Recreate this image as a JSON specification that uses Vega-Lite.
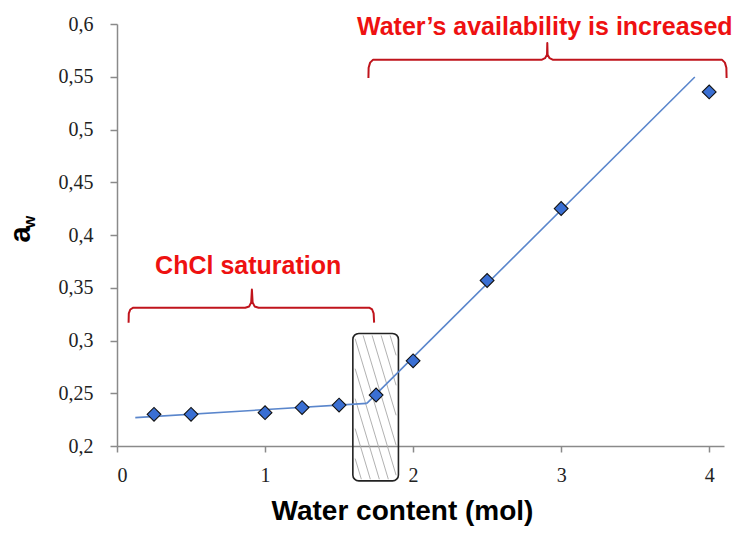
{
  "$schema": "https://vega.github.io/schema/vega-lite/v6.json",
  "width": 607,
  "height": 422,
  "autosize": {"type": "none"},
  "padding": {"left": 117, "top": 24, "right": 17, "bottom": 89},
  "background": "white",
  "config": {"view": {"stroke": null}},
  "datasets": {
    "points": [
      {"water": 0.25, "aw": 0.230},
      {"water": 0.5, "aw": 0.230},
      {"water": 1.0, "aw": 0.2316},
      {"water": 1.25, "aw": 0.2364},
      {"water": 1.5, "aw": 0.2388},
      {"water": 1.75, "aw": 0.2483},
      {"water": 2.0, "aw": 0.2807},
      {"water": 2.5, "aw": 0.3569},
      {"water": 3.0, "aw": 0.4251},
      {"water": 4.0, "aw": 0.5356}
    ],
    "fits": [
      {"series": "fit1", "water": 0.1235, "aw": 0.2269},
      {"series": "fit1", "water": 1.6875, "aw": 0.2404},
      {"series": "fit2", "water": 1.6875, "aw": 0.2404},
      {"series": "fit2", "water": 3.903, "aw": 0.5498}
    ],
    "box": [
      {"x": 1.593, "x2": 1.901, "y": 0.1669, "y2": 0.3067}
    ],
    "hatch": [
      {"x": 1.6085, "y": 0.1881, "x2": 1.6504, "y2": 0.1685},
      {"x": 1.6085, "y": 0.2165, "x2": 1.7111, "y2": 0.1685},
      {"x": 1.6085, "y": 0.2449, "x2": 1.7718, "y2": 0.1685},
      {"x": 1.6085, "y": 0.2733, "x2": 1.8326, "y2": 0.1685},
      {"x": 1.6085, "y": 0.3017, "x2": 1.8853, "y2": 0.1723},
      {"x": 1.6625, "y": 0.3048, "x2": 1.8853, "y2": 0.2007},
      {"x": 1.7232, "y": 0.3048, "x2": 1.8853, "y2": 0.2291},
      {"x": 1.784, "y": 0.3048, "x2": 1.8853, "y2": 0.2575},
      {"x": 1.8447, "y": 0.3048, "x2": 1.8853, "y2": 0.2859}
    ],
    "braces": [
      {"b": "sat", "i": 0, "x": 0.0783, "y": 0.3169},
      {"b": "sat", "i": 1, "x": 0.0797, "y": 0.3257},
      {"b": "sat", "i": 2, "x": 0.0898, "y": 0.3294},
      {"b": "sat", "i": 3, "x": 0.11, "y": 0.3311},
      {"b": "sat", "i": 4, "x": 0.866, "y": 0.3311},
      {"b": "sat", "i": 5, "x": 0.893, "y": 0.3323},
      {"b": "sat", "i": 6, "x": 0.9065, "y": 0.3361},
      {"b": "sat", "i": 7, "x": 0.9112, "y": 0.3484},
      {"b": "sat", "i": 8, "x": 0.916, "y": 0.3361},
      {"b": "sat", "i": 9, "x": 0.9295, "y": 0.3323},
      {"b": "sat", "i": 10, "x": 0.9565, "y": 0.3311},
      {"b": "sat", "i": 11, "x": 1.703, "y": 0.3311},
      {"b": "sat", "i": 12, "x": 1.7233, "y": 0.3294},
      {"b": "sat", "i": 13, "x": 1.7334, "y": 0.3257},
      {"b": "sat", "i": 14, "x": 1.7367, "y": 0.3169},
      {"b": "avail", "i": 0, "x": 1.6983, "y": 0.5489},
      {"b": "avail", "i": 1, "x": 1.6996, "y": 0.5586},
      {"b": "avail", "i": 2, "x": 1.7097, "y": 0.5634},
      {"b": "avail", "i": 3, "x": 1.73, "y": 0.5662},
      {"b": "avail", "i": 4, "x": 2.8708, "y": 0.5662},
      {"b": "avail", "i": 5, "x": 2.891, "y": 0.5676},
      {"b": "avail", "i": 6, "x": 2.9045, "y": 0.5709},
      {"b": "avail", "i": 7, "x": 2.9065, "y": 0.582},
      {"b": "avail", "i": 8, "x": 2.9085, "y": 0.5709},
      {"b": "avail", "i": 9, "x": 2.922, "y": 0.5676},
      {"b": "avail", "i": 10, "x": 2.9423, "y": 0.5662},
      {"b": "avail", "i": 11, "x": 4.0857, "y": 0.5662},
      {"b": "avail", "i": 12, "x": 4.106, "y": 0.5634},
      {"b": "avail", "i": 13, "x": 4.116, "y": 0.5586},
      {"b": "avail", "i": 14, "x": 4.1175, "y": 0.5489}
    ],
    "labels": [
      {"text": "ChCl saturation", "x": 0.886, "y": 0.3626},
      {"text": "Water’s availability is increased", "x": 2.8897, "y": 0.5899}
    ],
    "sub": [
      {"text": "w", "x": -0.585, "y": 0.4123}
    ]
  },
  "layer": [
    {
      "data": {"name": "box"},
      "mark": {"type": "rect", "fill": "transparent", "stroke": "#222222", "strokeWidth": 1.6, "cornerRadius": 6},
      "encoding": {
        "x": {"field": "x", "type": "quantitative",
          "scale": {"domain": [0, 4.1], "nice": false, "zero": false},
          "axis": {
            "values": [0, 1, 2, 3, 4],
            "labelExpr": "format(datum.value, 'd')",
            "title": "Water content (mol)",
            "titleFont": "Liberation Sans",
            "titleFontWeight": "bold",
            "titleFontSize": 28,
            "titleColor": "#000000",
            "titleX": 285,
            "titleY": 73,
            "titleAlign": "center",
            "titleBaseline": "alphabetic",
            "domainColor": "#8a8a8a",
            "domainWidth": 1.5,
            "tickColor": "#8a8a8a",
            "tickWidth": 1.5,
            "tickSize": 6,
            "labelFont": "Liberation Serif",
            "labelFontSize": 20,
            "labelColor": "#222222",
            "labelPadding": 13,
            "grid": false
          }},
        "x2": {"field": "x2"},
        "y": {"field": "y", "type": "quantitative",
          "scale": {"domain": [0.2, 0.6], "nice": false, "zero": false},
          "axis": {
            "values": [0.2, 0.25, 0.3, 0.35, 0.4, 0.45, 0.5, 0.55, 0.6],
            "labelExpr": "replace(format(datum.value, '.2~f'), '.', ',')",
            "title": "a",
            "titleFont": "Liberation Sans",
            "titleFontWeight": "bold",
            "titleFontSize": 29,
            "titleColor": "#000000",
            "titleAngle": 270,
            "titleX": -88,
            "titleY": 210,
            "titleAlign": "center",
            "titleBaseline": "alphabetic",
            "domainColor": "#8a8a8a",
            "domainWidth": 1.5,
            "tickColor": "#8a8a8a",
            "tickWidth": 1.5,
            "tickSize": 7,
            "labelFont": "Liberation Serif",
            "labelFontSize": 20,
            "labelColor": "#222222",
            "labelPadding": 17,
            "grid": false
          }},
        "y2": {"field": "y2"}
      }
    },
    {
      "data": {"name": "hatch"},
      "mark": {"type": "rule", "color": "#a8a8a8", "strokeWidth": 0.9},
      "encoding": {
        "x": {"field": "x", "type": "quantitative"},
        "y": {"field": "y", "type": "quantitative"},
        "x2": {"field": "x2"},
        "y2": {"field": "y2"}
      }
    },
    {
      "data": {"name": "fits"},
      "mark": {"type": "line", "color": "#5a86cc", "strokeWidth": 1.6},
      "encoding": {
        "x": {"field": "water", "type": "quantitative"},
        "y": {"field": "aw", "type": "quantitative"},
        "detail": {"field": "series"}
      }
    },
    {
      "data": {"name": "points"},
      "mark": {"type": "point", "shape": "diamond", "filled": true, "fill": "#3a6fd3", "stroke": "#111111", "strokeWidth": 1.1, "opacity": 1, "size": 190},
      "encoding": {
        "x": {"field": "water", "type": "quantitative"},
        "y": {"field": "aw", "type": "quantitative"}
      }
    },
    {
      "data": {"name": "braces"},
      "mark": {"type": "line", "color": "#c0141c", "strokeWidth": 2, "strokeJoin": "round"},
      "encoding": {
        "x": {"field": "x", "type": "quantitative"},
        "y": {"field": "y", "type": "quantitative"},
        "detail": {"field": "b"},
        "order": {"field": "i", "type": "quantitative"}
      }
    },
    {
      "data": {"name": "labels"},
      "mark": {"type": "text", "color": "#ee1111", "font": "Liberation Sans", "fontWeight": "bold", "fontSize": 25, "align": "center", "baseline": "alphabetic"},
      "encoding": {
        "x": {"field": "x", "type": "quantitative"},
        "y": {"field": "y", "type": "quantitative"},
        "text": {"field": "text"}
      }
    },
    {
      "data": {"name": "sub"},
      "mark": {"type": "text", "color": "#000000", "font": "Liberation Sans", "fontWeight": "bold", "fontSize": 16, "align": "center", "baseline": "middle", "angle": 270},
      "encoding": {
        "x": {"field": "x", "type": "quantitative"},
        "y": {"field": "y", "type": "quantitative"},
        "text": {"field": "text"}
      }
    }
  ]
}
